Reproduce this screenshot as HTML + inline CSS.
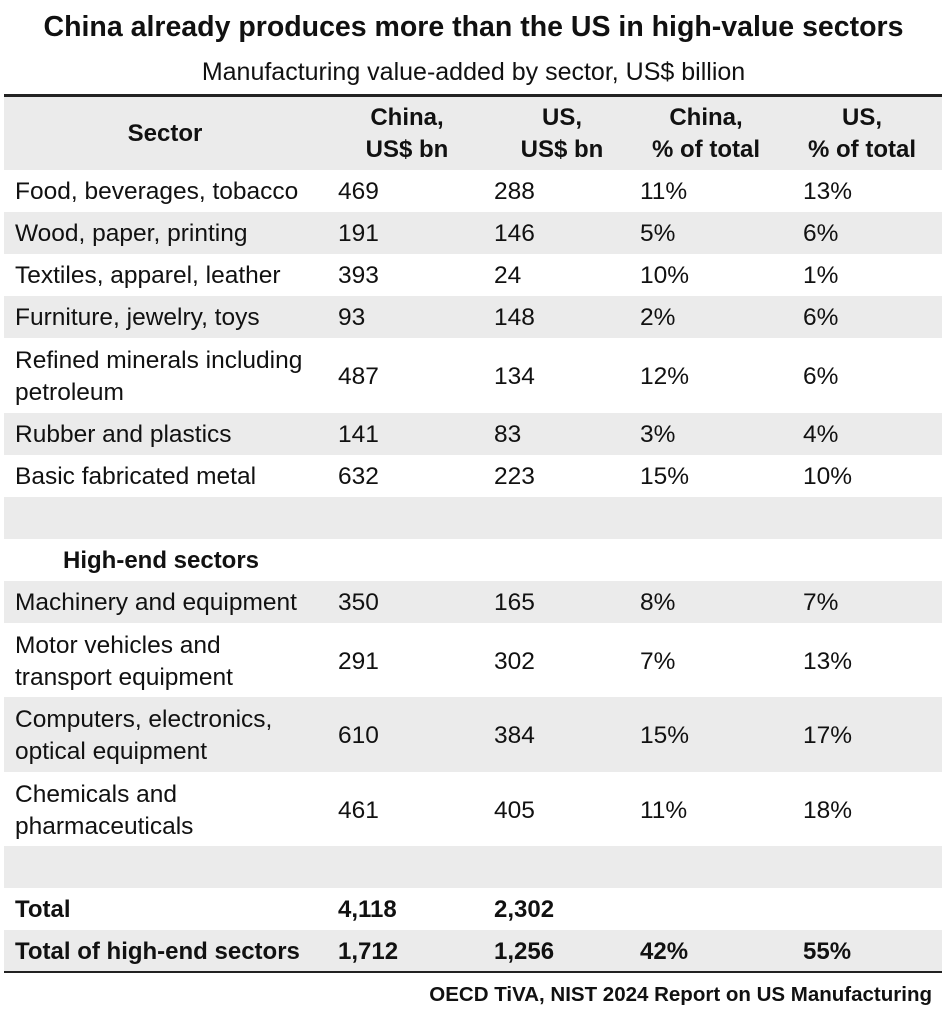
<!DOCTYPE html>
<html><head><meta charset="utf-8"><style>
html,body{margin:0;padding:0;background:#fff;}
body{width:947px;height:1024px;position:relative;overflow:hidden;font-family:"Liberation Sans",sans-serif;color:#111;}
.t{position:absolute;white-space:nowrap;}
.row{position:absolute;left:4px;width:938px;}
.g{background:#ebebeb;}
.c{position:absolute;white-space:nowrap;font-size:24.5px;line-height:30px;}
.b{font-weight:bold;}
.h{position:absolute;white-space:nowrap;font-size:24px;font-weight:bold;line-height:32px;text-align:center;transform:translateX(-50%);}
</style></head><body>
<div class="t b" style="left:0;width:947px;text-align:center;top:11px;font-size:28.5px;">China already produces more than the US in high-value sectors</div>
<div class="t" style="left:0;width:947px;text-align:center;top:58px;font-size:25px;">Manufacturing value-added by sector, US$ billion</div>

<div class="row g" style="top:96px;height:74px;"></div>
<div style="position:absolute;left:4px;width:938px;top:94px;height:3px;background:#222;"></div>
<div class="h" style="left:165px;top:118px;">Sector</div>
<div class="h" style="left:407px;top:102px;">China,<br>US$ bn</div>
<div class="h" style="left:562px;top:102px;">US,<br>US$ bn</div>
<div class="h" style="left:706px;top:102px;">China,<br>% of total</div>
<div class="h" style="left:862px;top:102px;">US,<br>% of total</div>

<div class="row g" style="top:212px;height:42px;"></div>
<div class="row g" style="top:296px;height:42px;"></div>
<div class="row g" style="top:413px;height:42px;"></div>
<div class="row g" style="top:497px;height:42px;"></div>
<div class="row g" style="top:581px;height:42px;"></div>
<div class="row g" style="top:697px;height:75px;"></div>
<div class="row g" style="top:846px;height:42px;"></div>
<div class="row g" style="top:930px;height:42px;"></div>
<div style="position:absolute;left:4px;width:938px;top:971px;height:2px;background:#222;"></div>

<div class="c" style="left:15px;top:177px;">Food, beverages, tobacco</div><div class="c" style="left:338px;top:177px;">469</div><div class="c" style="left:494px;top:177px;">288</div><div class="c" style="left:640px;top:177px;">11%</div><div class="c" style="left:803px;top:177px;">13%</div>
<div class="c" style="left:15px;top:219px;">Wood, paper, printing</div><div class="c" style="left:338px;top:219px;">191</div><div class="c" style="left:494px;top:219px;">146</div><div class="c" style="left:640px;top:219px;">5%</div><div class="c" style="left:803px;top:219px;">6%</div>
<div class="c" style="left:15px;top:261px;">Textiles, apparel, leather</div><div class="c" style="left:338px;top:261px;">393</div><div class="c" style="left:494px;top:261px;">24</div><div class="c" style="left:640px;top:261px;">10%</div><div class="c" style="left:803px;top:261px;">1%</div>
<div class="c" style="left:15px;top:303px;">Furniture, jewelry, toys</div><div class="c" style="left:338px;top:303px;">93</div><div class="c" style="left:494px;top:303px;">148</div><div class="c" style="left:640px;top:303px;">2%</div><div class="c" style="left:803px;top:303px;">6%</div>
<div class="c" style="left:15px;top:345px;line-height:32px;">Refined minerals including<br>petroleum</div><div class="c" style="left:338px;top:362px;">487</div><div class="c" style="left:494px;top:362px;">134</div><div class="c" style="left:640px;top:362px;">12%</div><div class="c" style="left:803px;top:362px;">6%</div>
<div class="c" style="left:15px;top:420px;">Rubber and plastics</div><div class="c" style="left:338px;top:420px;">141</div><div class="c" style="left:494px;top:420px;">83</div><div class="c" style="left:640px;top:420px;">3%</div><div class="c" style="left:803px;top:420px;">4%</div>
<div class="c" style="left:15px;top:462px;">Basic fabricated metal</div><div class="c" style="left:338px;top:462px;">632</div><div class="c" style="left:494px;top:462px;">223</div><div class="c" style="left:640px;top:462px;">15%</div><div class="c" style="left:803px;top:462px;">10%</div>
<div class="c b" style="left:63px;top:546px;font-size:24px;">High-end sectors</div>
<div class="c" style="left:15px;top:588px;">Machinery and equipment</div><div class="c" style="left:338px;top:588px;">350</div><div class="c" style="left:494px;top:588px;">165</div><div class="c" style="left:640px;top:588px;">8%</div><div class="c" style="left:803px;top:588px;">7%</div>
<div class="c" style="left:15px;top:630px;line-height:32px;">Motor vehicles and<br>transport equipment</div><div class="c" style="left:338px;top:647px;">291</div><div class="c" style="left:494px;top:647px;">302</div><div class="c" style="left:640px;top:647px;">7%</div><div class="c" style="left:803px;top:647px;">13%</div>
<div class="c" style="left:15px;top:704px;line-height:32px;">Computers, electronics,<br>optical equipment</div><div class="c" style="left:338px;top:721px;">610</div><div class="c" style="left:494px;top:721px;">384</div><div class="c" style="left:640px;top:721px;">15%</div><div class="c" style="left:803px;top:721px;">17%</div>
<div class="c" style="left:15px;top:779px;line-height:32px;">Chemicals and<br>pharmaceuticals</div><div class="c" style="left:338px;top:796px;">461</div><div class="c" style="left:494px;top:796px;">405</div><div class="c" style="left:640px;top:796px;">11%</div><div class="c" style="left:803px;top:796px;">18%</div>
<div class="c b" style="left:15px;top:895px;font-size:24px;">Total</div><div class="c b" style="left:338px;top:895px;font-size:24px;">4,118</div><div class="c b" style="left:494px;top:895px;font-size:24px;">2,302</div>
<div class="c b" style="left:15px;top:937px;font-size:24px;">Total of high-end sectors</div><div class="c b" style="left:338px;top:937px;font-size:24px;">1,712</div><div class="c b" style="left:494px;top:937px;font-size:24px;">1,256</div><div class="c b" style="left:640px;top:937px;font-size:24px;">42%</div><div class="c b" style="left:803px;top:937px;font-size:24px;">55%</div>

<div class="t b" style="right:15px;top:983px;font-size:20.5px;">OECD TiVA, NIST 2024 Report on US Manufacturing</div>
</body></html>
